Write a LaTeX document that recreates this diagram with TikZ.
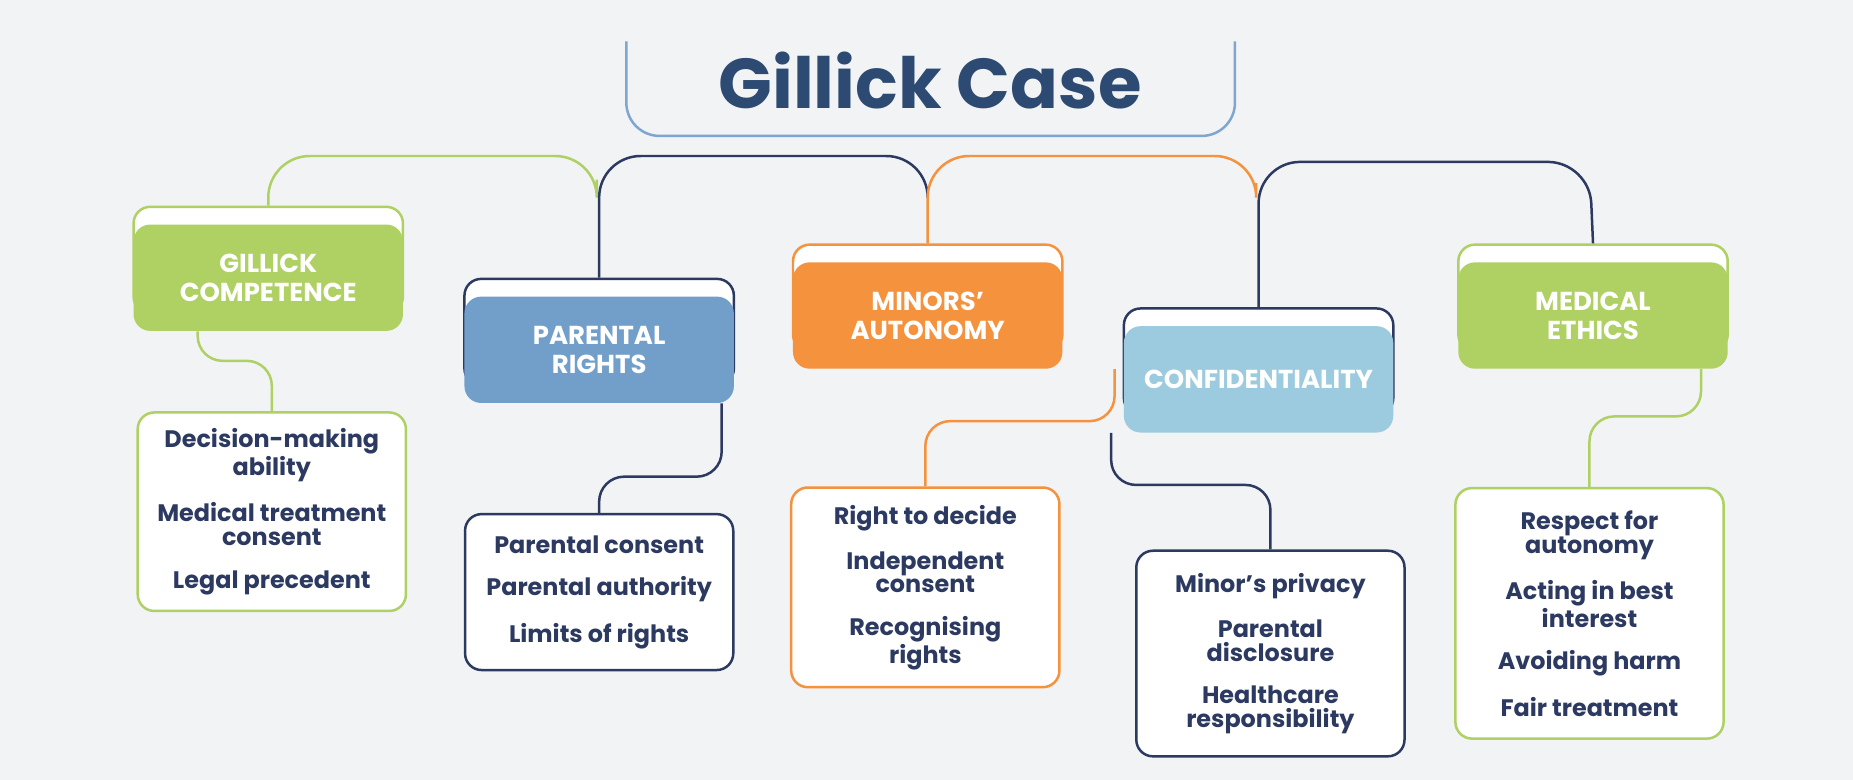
\documentclass[tikz,border=0pt]{standalone}
\usepackage{fontspec}
\setmainfont{Poppins}
\usetikzlibrary{calc, positioning}
\definecolor{bgc}{HTML}{F2F3F5}
\definecolor{ttl}{HTML}{2D4A72}
\definecolor{navy}{HTML}{2C3A62}
\definecolor{grn}{HTML}{AFD062}
\definecolor{blu}{HTML}{729FC9}
\definecolor{org}{HTML}{F5923E}
\definecolor{lblu}{HTML}{9CCBDF}
\definecolor{tline}{HTML}{7EA6CF}
\tikzset{
  back/.style={draw=#1, fill=white, line width=1.2pt, rounded corners=8pt, minimum width=4.56cm, minimum height=1.8cm},
  cat/.style={fill=#1, rounded corners=8pt, minimum width=4.56cm, minimum height=1.8cm, text=white, align=center, font=\fontsize{12.5}{14}\selectfont\bfseries},
  item/.style={draw=#1, fill=white, line width=1.2pt, rounded corners=8pt, minimum width=4.54cm, align=center, text=navy, font=\fontsize{11.5}{11.5}\selectfont\bfseries},
  conn/.style={draw=#1, line width=1.2pt, rounded corners=12pt}
}
\begin{document}
\begin{tikzpicture}[x=0.02cm, y=-0.02cm]
  \fill[bgc] (0,0) rectangle (1568,660);

  % title
  \node[text=ttl, font=\fontsize{34}{36}\selectfont\bfseries] (title) at (787,68) {Gillick Case};
  \coordinate (tl) at (530,35);
  \coordinate (tr) at (1045,35);
  \draw[conn=tline, rounded corners=16pt] (tl) -- (530,115) -- (1045,115) -- (tr);

  % category boxes
  \node[back=grn] (b1) at (227,220) {};
  \node[cat=grn] (c1) at (227,235) {GILLICK\\COMPETENCE};
  \node[back=navy] (b2) at (507,281) {};
  \node[cat=blu] (c2) at (507,296) {PARENTAL\\RIGHTS};
  \node[back=org] (b3) at (785,252) {};
  \node[cat=org] (c3) at (785,267) {MINORS’\\AUTONOMY};
  \node[back=navy] (b4) at (1065,306) {};
  \node[cat=lblu] (c4) at (1065,321) {CONFIDENTIALITY};
  \node[back=grn] (b5) at (1348,252) {};
  \node[cat=grn] (c5) at (1348,267) {MEDICAL\\ETHICS};

  % item boxes
  \node[item=grn, minimum height=3.36cm] (d1) at (230,433)
    {Decision-making\\ability\\[9pt]Medical treatment\\consent\\[9pt]Legal precedent};
  \node[item=navy, minimum height=2.64cm] (d2) at (507,501)
    {Parental consent\\[9pt]Parental authority\\[9pt]Limits of rights};
  \node[item=org, minimum height=3.38cm] (d3) at (783,497)
    {Right to decide\\[9pt]Independent\\consent\\[9pt]Recognising\\rights};
  \node[item=navy, minimum height=3.48cm] (d4) at (1075,553)
    {Minor’s privacy\\[9pt]Parental\\disclosure\\[9pt]Healthcare\\responsibility};
  \node[item=grn, minimum height=4.24cm] (d5) at (1345,519)
    {Respect for\\autonomy\\[9pt]Acting in best\\interest\\[9pt]Avoiding harm\\[9pt]Fair treatment};

  % top branches
  \coordinate (g1) at (505,152);
  \coordinate (n1) at (785,160);
  \coordinate (o1) at (1063,155);
  \draw[conn=grn, rounded corners=20pt] (b1.north) |- (505,132) -- (g1);
  \draw[conn=navy, rounded corners=20pt] (b2.north) |- (785,132) -- (n1);
  \draw[conn=org, rounded corners=20pt] (b3.north) |- (1063,132) -- (o1);
  \draw[conn=navy, rounded corners=20pt] (b4.north) |- (1345,137) -- (b5.north);

  % lower links
  \draw[conn=grn] ([xshift=-34]c1.south) -- ++(0,25) -| (d1.north);
  \draw[conn=navy] ([xshift=59]c2.south) -- ++(0,62) -| (d2.north);
  \draw[conn=org] ([xshift=90]c3.south) -- ++(0,44) -| (d3.north);
  \draw[conn=navy] ([xshift=-71]c4.south) -- ++(0,44) -| (d4.north);
  \draw[conn=grn] ([xshift=52]c5.south) -- ++(0,40) -| (d5.north);
\end{tikzpicture}
\end{document}
